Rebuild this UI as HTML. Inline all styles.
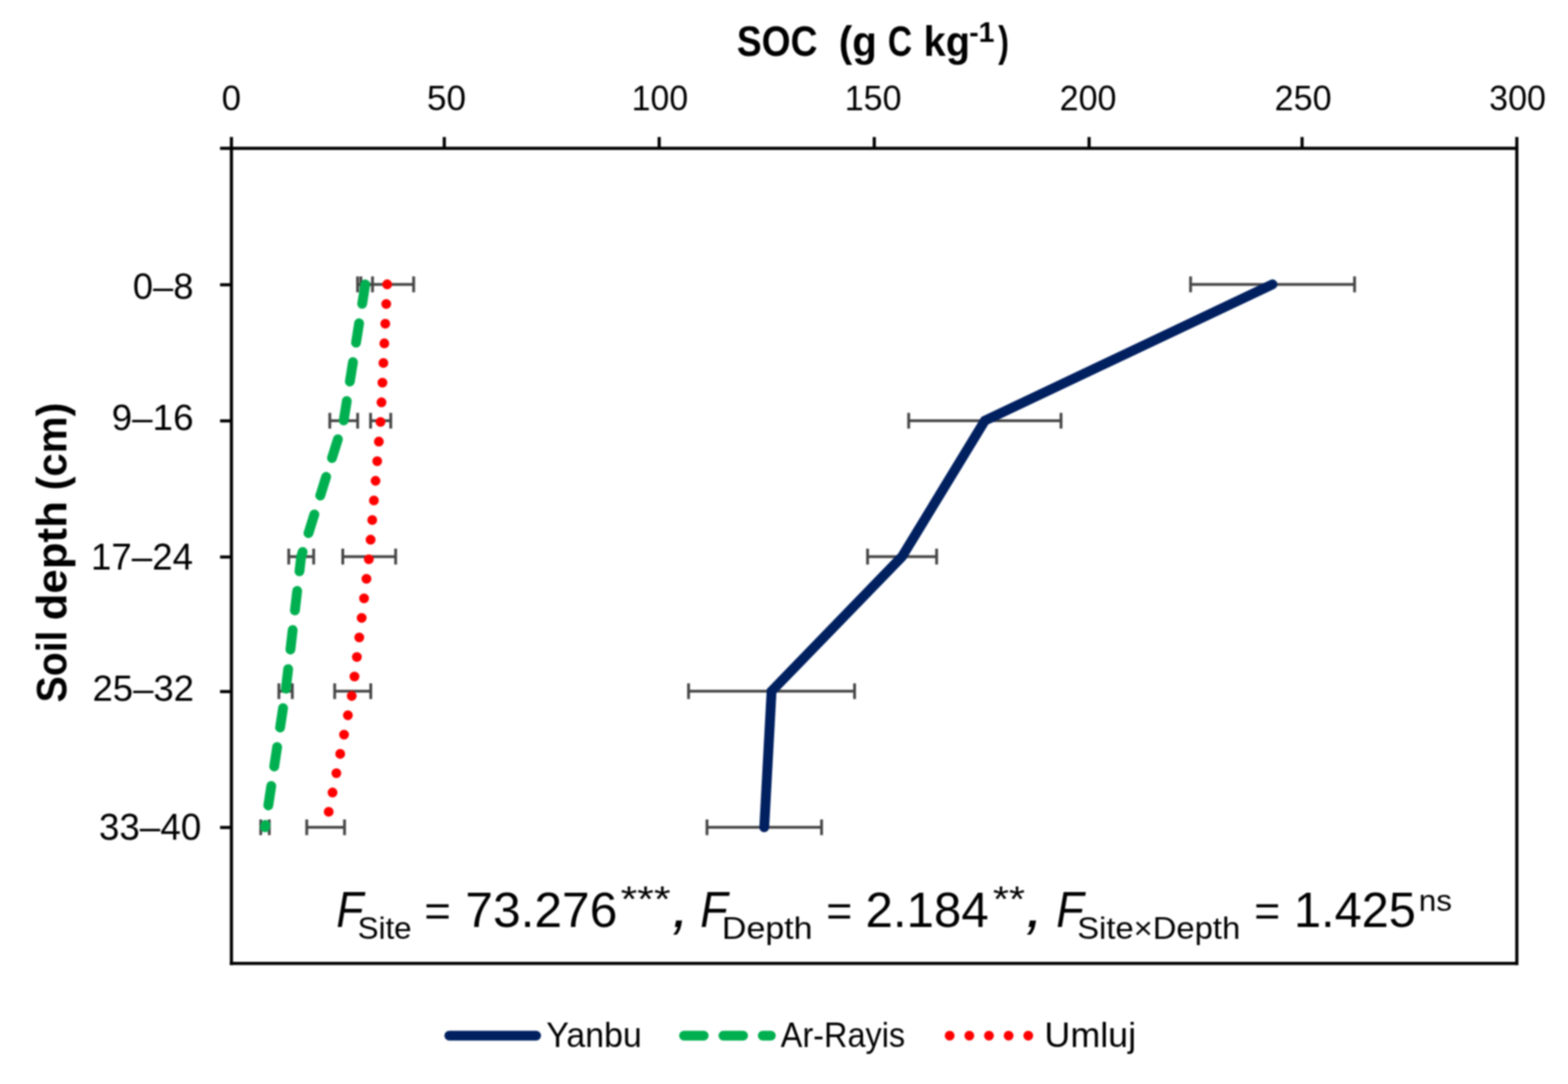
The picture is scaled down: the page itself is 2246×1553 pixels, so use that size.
<!DOCTYPE html>
<html lang="en"><head><meta charset="utf-8"><title>SOC (g C kg-1) by soil depth (cm)</title>
<style>
html,body{margin:0;padding:0;background:#fff;}
body{width:2246px;height:1553px;overflow:hidden;}
svg{display:block;}
#chart{filter:blur(1px);}
text{font-family:"Liberation Sans","DejaVu Sans",sans-serif;fill:#000;white-space:pre;}
.b{font-weight:bold;}
.i{font-style:italic;}
</style></head><body>
<svg width="2246" height="1553" viewBox="0 0 2246 1553" role="img" aria-label="SOC (g C kg-1) versus soil depth (cm) for Yanbu, Ar-Rayis and Umluj">
<rect x="0" y="0" width="2246" height="1553" fill="#fff"/>
<g id="chart">
<g id="errorbars" stroke="#454545" stroke-width="4" fill="none">
<path d="M1705.4 407.4H1940.3M1705.4 396.1V418.7M1940.3 396.1V418.7"/>
<path d="M1301.6 602.7H1519.8M1301.6 591.4V614.0M1519.8 591.4V614.0"/>
<path d="M1242.7 797.4H1341.6M1242.7 786.1V808.7M1341.6 786.1V808.7"/>
<path d="M986.3 990.2H1224.1M986.3 978.9V1001.5M1224.1 978.9V1001.5"/>
<path d="M1012.7 1185.3H1176.8M1012.7 1174.0V1196.6M1176.8 1174.0V1196.6"/>
<path d="M512.2 407.4H533.6M512.2 396.1V418.7M533.6 396.1V418.7"/>
<path d="M472.4 602.7H512.3M472.4 591.4V614.0M512.3 591.4V614.0"/>
<path d="M413.6 797.4H449.3M413.6 786.1V808.7M449.3 786.1V808.7"/>
<path d="M399.5 990.2H418.7M399.5 978.9V1001.5M418.7 978.9V1001.5"/>
<path d="M373.5 1185.3H385.7M373.5 1174.0V1196.6M385.7 1174.0V1196.6"/>
<path d="M516.9 407.4H592.5M516.9 396.1V418.7M592.5 396.1V418.7"/>
<path d="M530.8 602.7H559.7M530.8 591.4V614.0M559.7 591.4V614.0"/>
<path d="M491.0 797.4H566.7M491.0 786.1V808.7M566.7 786.1V808.7"/>
<path d="M479.4 990.2H531.1M479.4 978.9V1001.5M531.1 978.9V1001.5"/>
<path d="M439.4 1185.3H493.5M439.4 1174.0V1196.6M493.5 1174.0V1196.6"/>
</g>
<g id="series" fill="none" stroke-width="14.1" stroke-linecap="round" stroke-linejoin="round">
<polyline points="1822.8,407.4 1410.7,602.7 1292.1,797.4 1105.2,990.2 1094.7,1185.3" stroke="#002060" stroke-linejoin="miter"/>
<polyline points="523.2,407.4 492.3,602.7 431.4,797.4 409.1,990.2 379.6,1185.3" stroke="#00b050" stroke-dasharray="28.2 28.2"/>
<polyline points="554.6,407.4 545.2,602.7 528.8,797.4 505.2,990.2 466.4,1185.3" stroke="#ff0000" stroke-dasharray="0 28.2"/>
</g>
<g id="axes" stroke="#000" stroke-width="4.5" fill="none">
<path d="M315.2 212.6H2174.9"/>
<path d="M331.5 196.3V1382.5"/>
<path d="M329.2 1380.2H2174.9"/>
<path d="M2172.7 196.3V1382.5"/>
<path d="M636.4 196.3V212.6"/>
<path d="M944.2 196.3V212.6"/>
<path d="M1252.3 196.3V212.6"/>
<path d="M1560.0 196.3V212.6"/>
<path d="M1865.1 196.3V212.6"/>
<path d="M315.2 408.0H331.5"/>
<path d="M315.2 603.0H331.5"/>
<path d="M315.2 798.0H331.5"/>
<path d="M315.2 990.8H331.5"/>
<path d="M315.2 1185.5H331.5"/>
</g>
<g id="xlabels">
<text transform="translate(317.60 158.00) scale(1.0007 1)" font-size="49.86">0</text>
<text transform="translate(611.38 158.00) scale(1.0115 1)" font-size="49.86">50</text>
<text transform="translate(904.82 158.00) scale(0.9719 1)" font-size="49.86">100</text>
<text transform="translate(1209.94 158.00) scale(0.9777 1)" font-size="49.86">150</text>
<text transform="translate(1517.76 158.00) scale(0.9800 1)" font-size="49.86">200</text>
<text transform="translate(1825.86 158.00) scale(0.9787 1)" font-size="49.86">250</text>
<text transform="translate(2133.05 158.00) scale(0.9789 1)" font-size="49.86">300</text>
</g>
<g id="ylabels">
<text transform="translate(190.32 427.69) scale(1.0125 1)" font-size="51.41">0–8</text>
<text transform="translate(159.93 615.78) scale(1.0148 1)" font-size="51.97">9–16</text>
<text transform="translate(130.15 816.30) scale(0.9958 1)" font-size="52.86">17–24</text>
<text transform="translate(132.48 1003.67) scale(0.9931 1)" font-size="52.68">25–32</text>
<text transform="translate(141.79 1203.27) scale(0.9919 1)" font-size="53.10">33–40</text>
</g>
<g id="xtitle">
<text class="b" transform="translate(1055.50 80.20) scale(0.8797 1)" font-size="60.50">SOC</text>
<text class="b" transform="translate(1201.52 80.20) scale(0.9537 1)" font-size="60.50">(g</text>
<text class="b" transform="translate(1271.78 80.20) scale(0.7949 1)" font-size="60.50">C</text>
<text class="b" transform="translate(1323.12 80.20) scale(0.9388 1)" font-size="60.50">kg</text>
<text class="b" transform="translate(1388.17 59.80) scale(1.0032 1)" font-size="40.72">-1</text>
<text class="b" transform="translate(1429.67 80.20) scale(0.7674 1)" font-size="60.50">)</text>
</g>
<g id="ytitle">
<text class="b" transform="translate(94.80 1006.18) rotate(-90) scale(0.9128 1)" font-size="61.50">Soil</text>
<text class="b" transform="translate(94.80 888.71) rotate(-90) scale(1.0197 1)" font-size="61.50">depth</text>
<text class="b" transform="translate(94.80 702.48) rotate(-90) scale(0.9691 1)" font-size="61.50">(cm)</text>
</g>
<g id="fstats">
<text class="i" transform="translate(481.79 1327.90) scale(0.8783 1)" font-size="72.32">F</text>
<text transform="translate(512.18 1344.70) scale(1.0334 1)" font-size="43.50">Site</text>
<text transform="translate(607.84 1326.88) scale(1.0373 1)" font-size="62.81">=</text>
<text transform="translate(666.54 1327.59) scale(1.0010 1)" font-size="71.13">73.276</text>
<text transform="translate(888.98 1306.18) scale(1.1711 1)" font-size="52.29">***</text>
<text class="i" transform="translate(962.40 1328.16) scale(1.0670 1)" font-size="84.35">,</text>
<text class="i" transform="translate(1002.97 1327.90) scale(0.8916 1)" font-size="72.32">F</text>
<text transform="translate(1034.00 1344.70) scale(1.1198 1)" font-size="43.50">Depth</text>
<text transform="translate(1183.40 1326.88) scale(1.0176 1)" font-size="62.81">=</text>
<text transform="translate(1239.77 1327.59) scale(0.9920 1)" font-size="71.13">2.184</text>
<text transform="translate(1422.21 1306.18) scale(1.1296 1)" font-size="52.29">**</text>
<text class="i" transform="translate(1468.93 1328.16) scale(1.1094 1)" font-size="84.35">,</text>
<text class="i" transform="translate(1512.97 1327.90) scale(0.8916 1)" font-size="72.32">F</text>
<text transform="translate(1542.89 1344.70) scale(1.0797 1)" font-size="43.50">Site×Depth</text>
<text transform="translate(1796.60 1326.88) scale(1.0176 1)" font-size="62.81">=</text>
<text transform="translate(1853.57 1327.59) scale(0.9809 1)" font-size="71.13">1.425</text>
<text transform="translate(2032.27 1304.68) scale(1.0745 1)" font-size="42.00">ns</text>
</g>
<g id="legend">
<g fill="none" stroke-width="14.1" stroke-linecap="round">
<path d="M643.6 1483.7H767.9" stroke="#002060"/>
<path d="M979.8 1483.7H1104.2" stroke="#00b050" stroke-dasharray="28.2 28.2"/>
<path d="M1360.3 1483.7H1480.0" stroke="#ff0000" stroke-dasharray="0 28.15"/>
</g>
<text transform="translate(782.39 1500.20) scale(0.9621 1)" font-size="50.50">Yanbu</text>
<text transform="translate(1118.37 1500.20) scale(0.9211 1)" font-size="50.50">Ar-Rayis</text>
<text transform="translate(1496.05 1500.20) scale(1.0176 1)" font-size="50.50">Umluj</text>
</g>
</g>
</svg>
</body></html>
